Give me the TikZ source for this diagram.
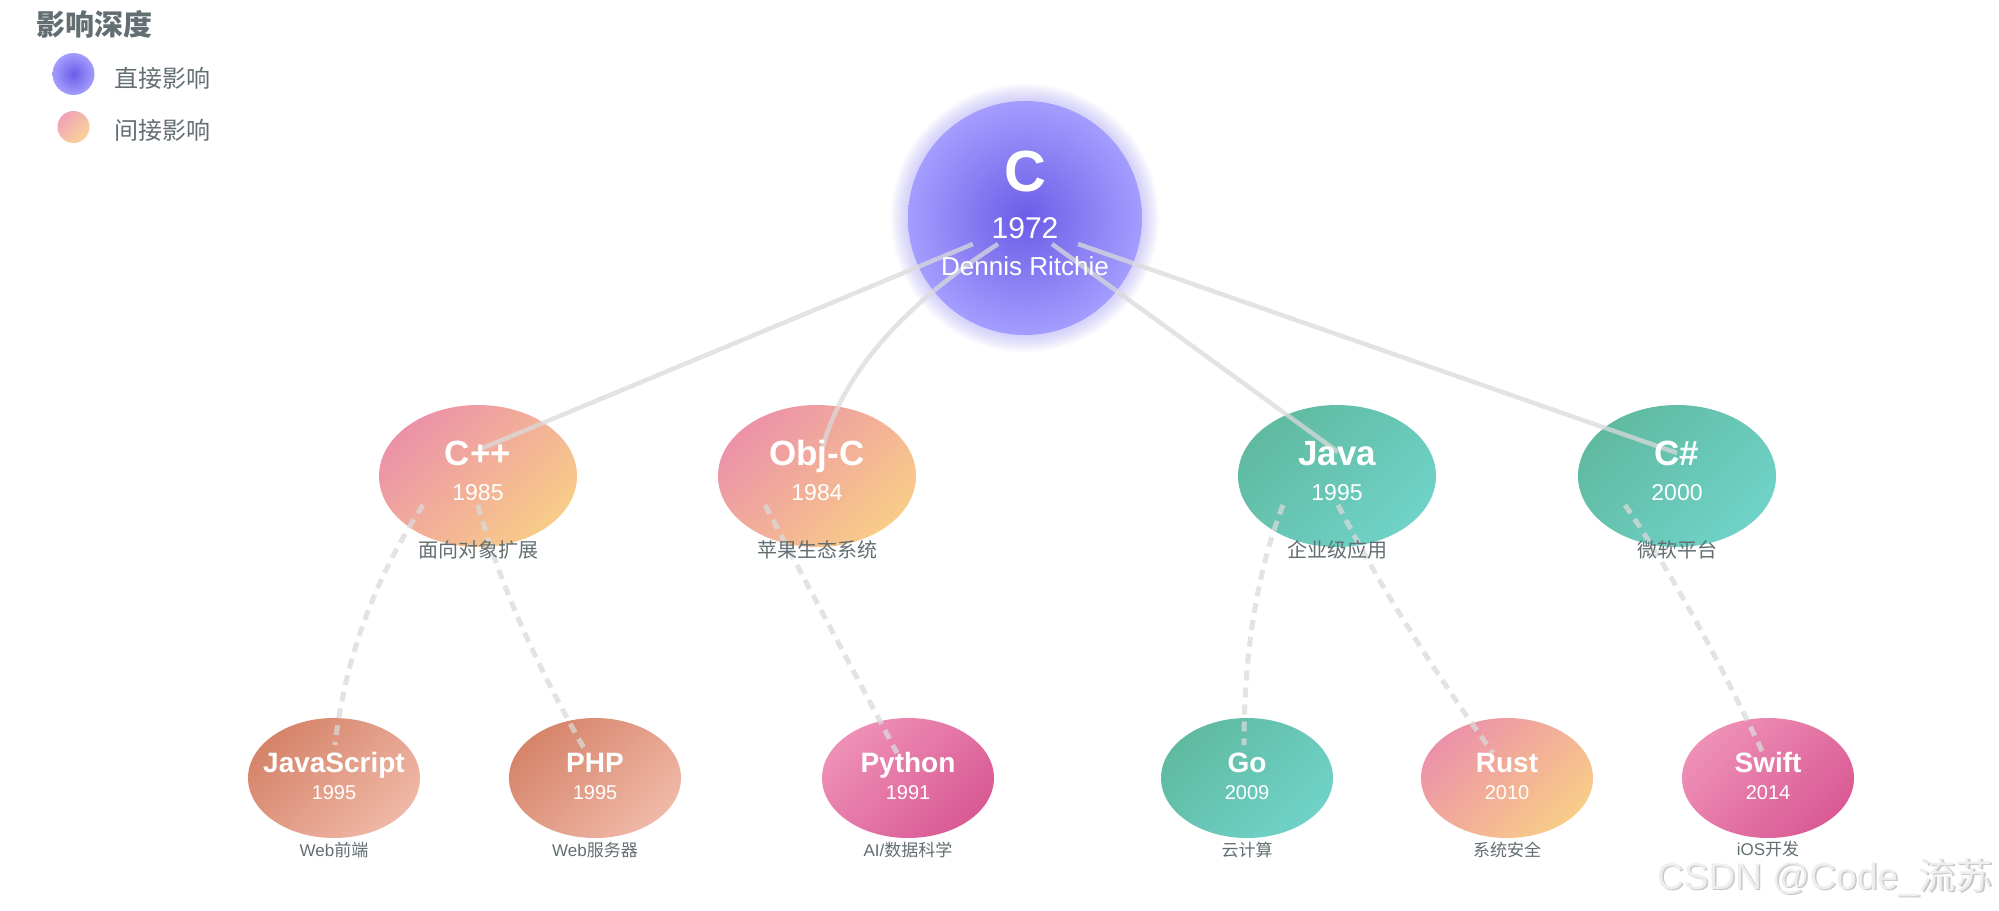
\documentclass[tikz,border=0pt]{standalone}
\usepackage{fontspec}
\setmainfont{Liberation Sans}
\newfontfamily\cjk{Noto Sans CJK SC}
\usetikzlibrary{shapes.geometric,calc}
\definecolor{purpleIn}{RGB}{108,92,231}
\definecolor{purpleOut}{RGB}{164,157,254}
\definecolor{glowc}{RGB}{150,140,250}
\definecolor{pinkA}{RGB}{236,146,168}
\definecolor{peachB}{RGB}{248,204,136}
\definecolor{tealA}{RGB}{95,186,160}
\definecolor{tealB}{RGB}{112,210,200}
\definecolor{coralA}{RGB}{214,132,106}
\definecolor{coralB}{RGB}{239,184,166}
\definecolor{magA}{RGB}{238,144,182}
\definecolor{magB}{RGB}{217,90,148}
\definecolor{labgray}{RGB}{99,110,114}
\definecolor{linegray}{RGB}{218,218,218}
\definecolor{wm}{RGB}{238,238,238}
\definecolor{wmshadow}{RGB}{200,200,200}
\begin{document}
\begin{tikzpicture}[x=1pt,y=-1pt,
  cnode/.style={circle, minimum size=234pt, inner sep=0pt, inner color=purpleIn, outer color=purpleOut},
  lvltwo/.style={ellipse, minimum width=198pt, minimum height=142pt, inner sep=0pt},
  lvlthree/.style={ellipse, minimum width=172pt, minimum height=120pt, inner sep=0pt},
  pinkfill/.style={top color=pinkA, bottom color=peachB, shading angle=45},
  tealfill/.style={top color=tealA, bottom color=tealB, shading angle=45},
  coralfill/.style={top color=coralA, bottom color=coralB, shading angle=45},
  magfill/.style={top color=magA, bottom color=magB, shading angle=45},
  direct/.style={draw=linegray, line width=4.5pt, opacity=0.75},
  indirect/.style={draw=linegray, line width=5pt, opacity=0.75, dash pattern=on 10pt off 7pt},
  txt/.style={anchor=base, inner sep=0pt, text=white},
  twoname/.style={txt, font=\bfseries\fontsize{35}{37}\selectfont},
  twoyear/.style={txt, font=\fontsize{23}{25}\selectfont},
  threename/.style={txt, font=\bfseries\fontsize{28}{30}\selectfont},
  threeyear/.style={txt, font=\fontsize{20}{22}\selectfont},
  twolab/.style={anchor=base, inner sep=0pt, text=labgray, font=\fontsize{20}{22}\selectfont},
  threelab/.style={anchor=base, inner sep=0pt, text=labgray, font=\fontsize{17}{19}\selectfont},
  legtext/.style={anchor=base west, inner sep=0pt, text=labgray, font=\fontsize{24}{26}\selectfont\cjk}
]
\useasboundingbox (0,0) rectangle (1999,910);
\fill[white] (0,0) rectangle (1999,910);

% glow around C
\foreach \r in {118,120,...,134} \fill[glowc, opacity=0.05] (1025,218) circle[radius=\r pt];

% nodes
\node[cnode] (C) at (1025,218) {};
\node[lvltwo, pinkfill] (cpp) at (478,476) {};
\node[lvltwo, pinkfill] (objc) at (817,476) {};
\node[lvltwo, tealfill] (java) at (1337,476) {};
\node[lvltwo, tealfill] (cs) at (1677,476) {};
\node[lvlthree, coralfill] (js) at (334,778) {};
\node[lvlthree, coralfill] (php) at (595,778) {};
\node[lvlthree, magfill] (py) at (908,778) {};
\node[lvlthree, tealfill] (go) at (1247,778) {};
\node[lvlthree, pinkfill] (rust) at (1507,778) {};
\node[lvlthree, magfill] (swift) at (1768,778) {};

% direct connectors
\draw[direct] ($(C)+(-52,26)$) -- ($(cpp)+(0,-26)$);
\draw[direct] ($(C)+(-27,26)$) .. controls ($(C)+(-126,90)$) and ($(objc)+(24,-99)$) .. ($(objc)+(5,-26)$);
\draw[direct] ($(C)+(27,26)$) -- ($(java)+(1,-24)$);
\draw[direct] ($(C)+(53,26)$) -- ($(cs)+(0,-23)$);

% indirect connectors
\draw[indirect] ($(cpp)+(-55,29)$) .. controls ($(cpp)+(-103,102)$) and ($(js)+(11,-120)$) .. ($(js)+(1,-33)$);
\draw[indirect] ($(cpp)+(0,29)$) .. controls ($(cpp)+(21,106)$) and ($(php)+(-60,-115)$) .. ($(php)+(-10,-28)$);
\draw[indirect] ($(objc)+(-52,29)$) -- ($(py)+(-11,-25)$);
\draw[indirect] ($(java)+(-54,29)$) .. controls ($(java)+(-80,96)$) and ($(go)+(-3,-126)$) .. ($(go)+(-3,-33)$);
\draw[indirect] ($(java)+(1,29)$) .. controls ($(java)+(44,112)$) and ($(rust)+(-74,-108)$) .. ($(rust)+(-14,-25)$);
\draw[indirect] ($(cs)+(-52,29)$) .. controls ($(cs)+(-9,91)$) and ($(swift)+(-54,-128)$) .. ($(swift)+(-5,-25)$);

% texts of C
\node[txt, font=\bfseries\fontsize{58}{60}\selectfont] (C-n) at (1025,191) {C};
\node[txt, font=\fontsize{30}{32}\selectfont] (C-y) at (1025,238) {1972};
\node[txt, font=\fontsize{26}{28}\selectfont] (C-p) at (1025,275) {Dennis Ritchie};

% level two texts
\node[twoname] (cpp-n) at (478,465) {C++};
\node[twoyear] (cpp-y) at (478,500) {1985};
\node[twolab] (cpp-l) at (478,557) {\cjk 面向对象扩展};
\node[twoname] (objc-n) at (817,465) {Obj-C};
\node[twoyear] (objc-y) at (817,500) {1984};
\node[twolab] (objc-l) at (817,557) {\cjk 苹果生态系统};
\node[twoname] (java-n) at (1337,465) {Java};
\node[twoyear] (java-y) at (1337,500) {1995};
\node[twolab] (java-l) at (1337,557) {\cjk 企业级应用};
\node[twoname] (cs-n) at (1677,465) {C\#};
\node[twoyear] (cs-y) at (1677,500) {2000};
\node[twolab] (cs-l) at (1677,557) {\cjk 微软平台};

% level three texts
\node[threename] (js-n) at (334,772) {JavaScript};
\node[threeyear] (js-y) at (334,799) {1995};
\node[threelab] (js-l) at (334,856.5) {Web{\cjk 前端}};
\node[threename] (php-n) at (595,772) {PHP};
\node[threeyear] (php-y) at (595,799) {1995};
\node[threelab] (php-l) at (595,856.5) {Web{\cjk 服务器}};
\node[threename] (py-n) at (908,772) {Python};
\node[threeyear] (py-y) at (908,799) {1991};
\node[threelab] (py-l) at (908,856.5) {AI/{\cjk 数据科学}};
\node[threename] (go-n) at (1247,772) {Go};
\node[threeyear] (go-y) at (1247,799) {2009};
\node[threelab] (go-l) at (1247,856.5) {\cjk 云计算};
\node[threename] (rust-n) at (1507,772) {Rust};
\node[threeyear] (rust-y) at (1507,799) {2010};
\node[threelab] (rust-l) at (1507,856.5) {\cjk 系统安全};
\node[threename] (swift-n) at (1768,772) {Swift};
\node[threeyear] (swift-y) at (1768,799) {2014};
\node[threelab] (swift-l) at (1768,855) {iOS{\cjk 开发}};

% legend
\node[anchor=base west, inner sep=0pt, text=labgray, font=\fontsize{29}{31}\selectfont\cjk\bfseries] (lg-title) at (36,35) {影响深度};
\node[circle, minimum size=42pt, inner sep=0pt, inner color=purpleIn, outer color=purpleOut] (lg-dot1) at (73.5,74) {};
\node[circle, minimum size=32pt, inner sep=0pt, top color=pinkA!85!white, bottom color=peachB!85!white, shading angle=45] (lg-dot2) at (73.5,127) {};
\node[legtext] (lg-t1) at (114,87) {直接影响};
\node[legtext] (lg-t2) at (114,139) {间接影响};

% watermark
\node[anchor=base east, inner sep=0pt, text=wmshadow, font=\fontsize{37}{39}\selectfont] (wm-s) at (1994.5,890.5) {CSDN @Code\_{\cjk 流苏}};
\node[anchor=base east, inner sep=0pt, text=wm, font=\fontsize{37}{39}\selectfont] (wm-t) at (1993,889) {CSDN @Code\_{\cjk 流苏}};
\end{tikzpicture}
\end{document}
